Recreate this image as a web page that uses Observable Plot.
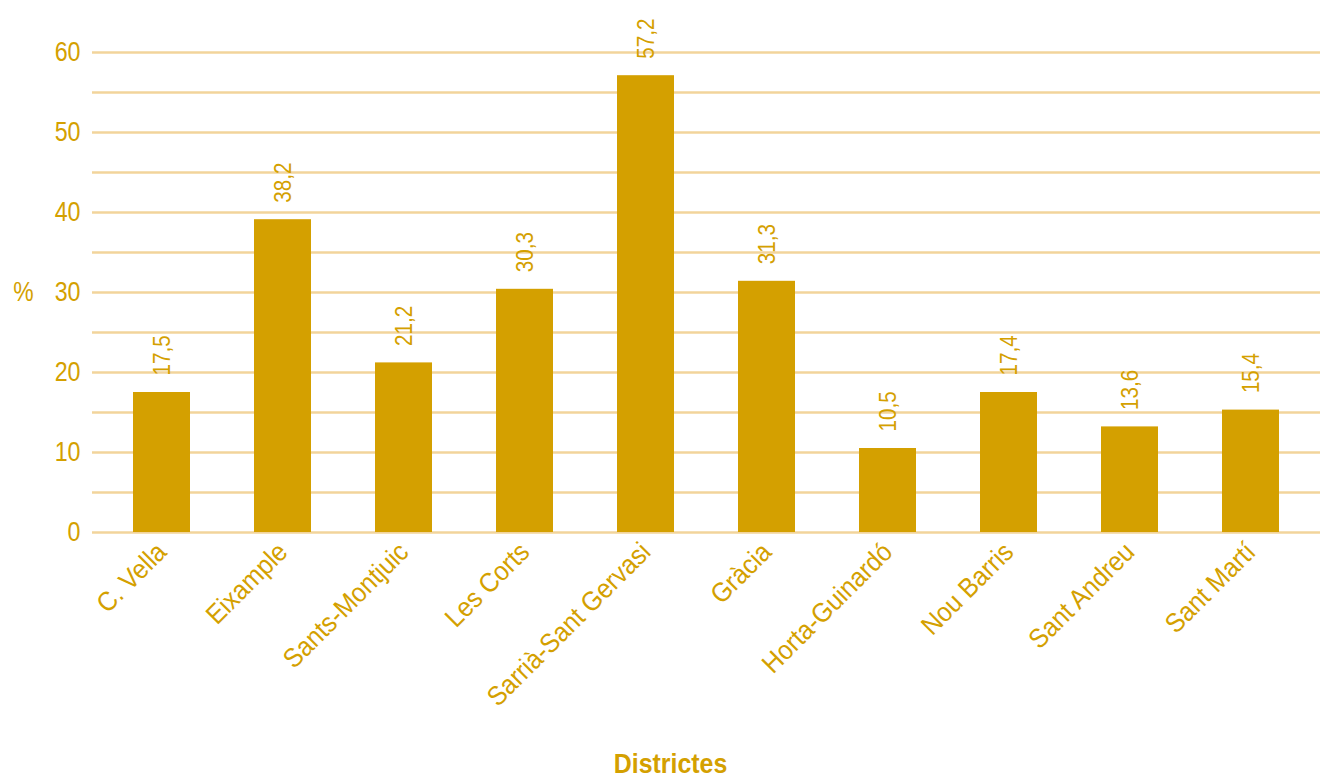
<!DOCTYPE html>
<html>
<head>
<meta charset="utf-8">
<script src="https://cdn.jsdelivr.net/npm/d3@7"></script>
<script src="https://cdn.jsdelivr.net/npm/@observablehq/plot@0.6"></script>
<style>
  html, body { margin: 0; padding: 0; background: #fff; }
  #chart svg { display: block; }
</style>
</head>
<body>
<div id="chart"></div>
<script>
const districts = ["C. Vella", "Eixample", "Sants-Montjuic", "Les Corts", "Sarrià-Sant Gervasi", "Gràcia", "Horta-Guinardó", "Nou Barris", "Sant Andreu", "Sant Martí"];
const barValues = [17.5, 39.1, 21.2, 30.4, 57.1, 31.4, 10.5, 17.5, 13.2, 15.3];
const valueLabels = ["17,5", "38,2", "21,2", "30,3", "57,2", "31,3", "10,5", "17,4", "13,6", "15,4"];
const yTicks = [0, 10, 20, 30, 40, 50, 60];
const gridTicks = [0, 5, 10, 15, 20, 25, 30, 35, 40, 45, 50, 55, 60];
const yLabel = "%";
const xLabel = "Districtes";

const data = districts.map((d, i) => ({district: d, value: barValues[i], label: valueLabels[i]}));

const gold = "#d4a000";
const font = "'Liberation Sans', Arial, sans-serif";

const chart = Plot.plot({
  width: 1320,
  height: 778,
  marginTop: 52,
  marginBottom: 246,
  marginLeft: 92,
  marginRight: 0,
  style: {fontFamily: font, color: gold, background: "#fff", overflow: "visible"},
  x: {domain: districts, paddingInner: 0.53, paddingOuter: 0.31},
  y: {domain: [0, 60]},
  marks: [
    Plot.ruleY(gridTicks, {stroke: "#f2d49b", strokeWidth: 2.5}),
    Plot.barY(data, {x: "district", y: "value", fill: gold}),
    Plot.text(data, {x: "district", y: "value", text: "label", rotate: -90, textAnchor: "start", dy: -17, fill: gold, fontSize: 24}),
    Plot.axisY(yTicks, {tickSize: 0, tickPadding: 12, fontSize: 28, fill: gold, label: null}),
    Plot.axisX({tickRotate: -45, tickSize: 0, tickPadding: 15, fontSize: 27, fill: gold, label: null}),
    Plot.text([yLabel], {frameAnchor: "left", dx: -69, textAnchor: "middle", fontSize: 27, fill: gold}),
    Plot.text([xLabel], {frameAnchor: "bottom", dx: -36, dy: 240, textAnchor: "middle", fontSize: 28, fontWeight: "bold", fill: gold})
  ]
});
document.getElementById("chart").append(chart);

// Narrow the glyphs along their own baseline to mimic the condensed face of the original.
function condense(nodes, s) {
  nodes.forEach((el) => {
    const xa = el.getAttribute("x");
    if (xa != null && isFinite(+xa) && +xa !== 0) el.setAttribute("x", +xa / s);
    const t = el.getAttribute("transform") || "";
    el.setAttribute("transform", `${t} scale(${s},1)`);
  });
}
const textGroups = chart.querySelectorAll('g[aria-label="text"]');
condense(Array.from(textGroups[0].querySelectorAll("text")), 0.86);
condense(Array.from(textGroups[1].querySelectorAll("text")), 0.85);
condense(Array.from(textGroups[2].querySelectorAll("text")), 0.89);
condense(Array.from(chart.querySelectorAll('g[aria-label="y-axis tick label"] text')), 0.83);
condense(Array.from(chart.querySelectorAll('g[aria-label="x-axis tick label"] text')), 0.92);
</script>
</body>
</html>
